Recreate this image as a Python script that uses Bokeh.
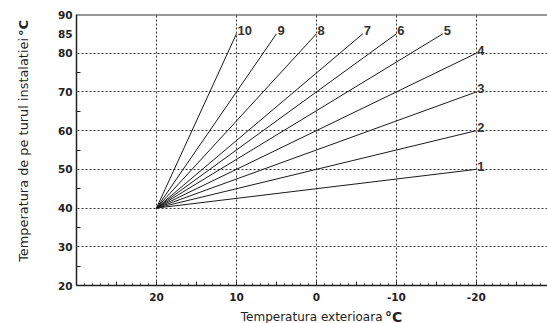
from bokeh.plotting import figure
from bokeh.models import FixedTicker, Range1d, Span, Label, ColumnDataSource
from bokeh.core.properties import value
from bokeh.embed import file_html
from bokeh.resources import INLINE

# ---- data ----
curve_ids = ["1", "2", "3", "4", "5", "6", "7", "8", "9", "10"]
start_outdoor = [20] * 10
start_flow = [40] * 10
end_outdoor = [-20, -20, -20, -20, -15.8, -10, -5.8, 0, 5, 10]
end_flow = [50, 60, 70, 80, 85, 85, 85, 85, 85, 85]

x_major = [20, 10, 0, -10, -20]
x_all_five = [25, 20, 15, 10, 5, 0, -5, -10, -15, -20, -25]
x_minor = list(range(-28, 31))
y_labels = [20, 30, 40, 50, 60, 70, 80, 85, 90]
y_grid = [30, 40, 50, 60, 70, 80]
y_minor = [25, 35, 45, 55, 65, 75]

x_title = "Temperatura exterioara"
y_title = "Temperatura de pe turul instalatiei"
unit = "°C"

p = figure(width=547, height=323, output_backend="svg", toolbar_location=None,
           x_range=Range1d(30, -28.9), y_range=Range1d(20, 90),
           min_border_left=76, min_border_right=0, min_border_top=14, min_border_bottom=38)
p.outline_line_color = None

# axes
p.xaxis.ticker = FixedTicker(ticks=x_all_five, minor_ticks=x_minor)
ovr = {v: "" for v in x_all_five if v not in x_major}
ovr.update({v: "-%d" % abs(v) for v in x_major if v < 0})
p.xaxis.major_label_overrides = ovr
p.yaxis.ticker = FixedTicker(ticks=y_labels, minor_ticks=y_minor)
for ax in (p.xaxis[0], p.yaxis[0]):
    ax.axis_line_color = "#222"
    ax.axis_line_width = 1.5
    ax.major_tick_line_color = "#222"
    ax.minor_tick_line_color = "#222"
    ax.major_tick_out = 0
    ax.minor_tick_out = 0
    ax.major_label_text_font = "DejaVu Sans"
    ax.major_label_text_font_style = "bold"
    ax.major_label_text_font_size = "10.5px"
    ax.major_label_text_color = "#222"
p.xaxis.major_tick_in = 4
p.xaxis.minor_tick_in = 2
p.xaxis.major_label_standoff = 7
p.yaxis.major_tick_in = 0
p.yaxis.minor_tick_in = 4
p.yaxis.major_label_standoff = 4

# grid
p.xgrid.ticker = FixedTicker(ticks=x_major)
p.ygrid.ticker = FixedTicker(ticks=y_grid)
for g in (p.xgrid[0], p.ygrid[0]):
    g.grid_line_color = "#333"
    g.grid_line_dash = "2 2"
    g.grid_line_width = 1

# top border
p.add_layout(Span(location=90, dimension="width", line_color="#333", line_width=2))

# curves
src = ColumnDataSource(dict(x0=start_outdoor, y0=start_flow, x1=end_outdoor, y1=end_flow, lab=curve_ids))
p.segment(x0="x0", y0="y0", x1="x1", y1="y1", source=src, line_color="#1a1a1a", line_width=1)
p.text(x="x1", y="y1", text="lab", source=src, x_offset=1, y_offset=-3,
       text_font=value("Liberation Sans"), text_font_style="bold", text_font_size="13px",
       text_color="#333", text_align="left", text_baseline="alphabetic")

# axis titles (canvas coordinates, hosted in side panels)
p.add_layout(Label(x=382, y=316, x_units="canvas", y_units="canvas", text=x_title,
                   text_align="right", text_baseline="alphabetic", text_font="DejaVu Sans",
                   text_font_size="12px", text_color="#222"), "below")
p.add_layout(Label(x=23, y=37.5, x_units="canvas", y_units="canvas", text=y_title, angle=1.5708,
                   text_align="right", text_baseline="alphabetic", text_font="DejaVu Sans",
                   text_font_size="12.9px", text_color="#222"), "left")
p.add_layout(Label(x=23, y=35.5, x_units="canvas", y_units="canvas", text=unit, angle=1.5708,
                   text_align="left", text_baseline="alphabetic", text_font="DejaVu Sans",
                   text_font_style="bold", text_font_size="13px", text_color="#222"), "left")
p.add_layout(Label(x=384.5, y=316, x_units="canvas", y_units="canvas", text=unit,
                   text_align="left", text_baseline="alphabetic", text_font="DejaVu Sans",
                   text_font_style="bold", text_font_size="14px", text_color="#222"), "left")

open("out.html", "w").write(file_html(p, INLINE))
